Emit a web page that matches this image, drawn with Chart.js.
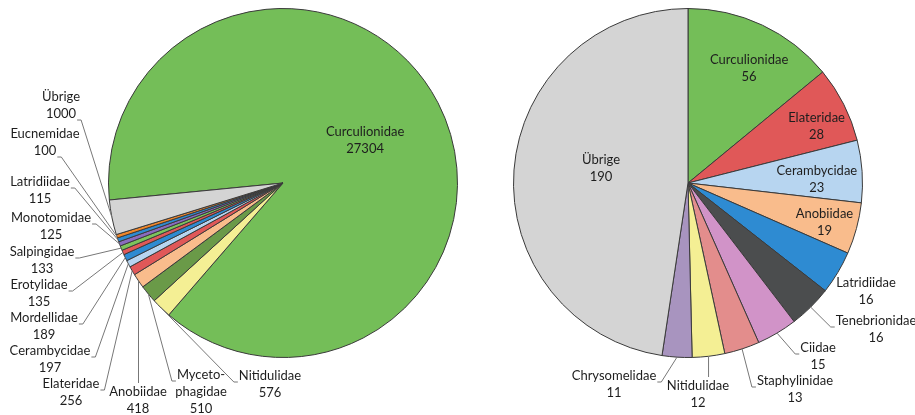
<!DOCTYPE html>
<html>
<head>
<meta charset="utf-8">
<script src="https://cdn.jsdelivr.net/npm/chart.js@4"></script>
<style>
body{margin:0;background:#fff;width:915px;height:415px;overflow:hidden;position:relative}
.box{position:absolute;top:0;height:415px}
#left{left:0;width:460px}
#right{left:460px;width:455px}
</style>
</head>
<body>
<div class="box" id="left"><canvas id="leftChart" width="460" height="415"></canvas></div>
<div class="box" id="right"><canvas id="rightChart" width="455" height="415"></canvas></div>
<script>
// left pie: all individuals
const leftFamilies = ['Curculionidae', 'Nitidulidae', 'Mycetophagidae', 'Anobiidae', 'Elateridae', 'Cerambycidae',
  'Mordellidae', 'Erotylidae', 'Salpingidae', 'Monotomidae', 'Latridiidae', 'Eucnemidae', 'Übrige'];
const leftCounts = [27304, 576, 510, 418, 256, 197, 189, 135, 133, 125, 115, 100, 1000];

// right pie
const rightFamilies = ['Curculionidae', 'Elateridae', 'Cerambycidae', 'Anobiidae', 'Latridiidae', 'Tenebrionidae',
  'Ciidae', 'Staphylinidae', 'Nitidulidae', 'Chrysomelidae', 'Übrige'];
const rightCounts = [56, 28, 23, 19, 16, 16, 15, 13, 12, 11, 190];

const GREEN = '#74be58', GRAY = '#d4d4d4', RED = '#e05858', LBLUE = '#b7d5f0', PEACH = '#f9bc8c',
  BLUE = '#2e8bd2', YELLOW = '#f4ef94';

const leftColors = [GREEN, YELLOW, '#6a9a48', PEACH, RED, LBLUE, BLUE, RED, '#7cc35c', '#8a6bbe', BLUE, '#f0862a', GRAY];
const rightColors = [GREEN, RED, LBLUE, PEACH, BLUE, '#4b4d4e', '#d193c8', '#e38d8c', YELLOW, '#a894bf', GRAY];

const FONT = '13px Lato';
const LINE = 17;

// label placement, canvas coords (r = inside label at fraction of radius)
const leftLayout = [
  {r: 0.53, dx: 0, dy: 0},
  {x: 270, y: 376, lead: 'left'},
  {x: 201, y: 375, lead: 'left', text: ['Myceto-', 'phagidae']},
  {x: 138, y: 392, lead: 'top'},
  {x: 71, y: 384, lead: 'right'},
  {x: 50, y: 351, lead: 'right'},
  {x: 44, y: 318, lead: 'right'},
  {x: 39, y: 285, lead: 'right'},
  {x: 42, y: 252, lead: 'right'},
  {x: 51, y: 218, lead: 'right'},
  {x: 40, y: 182, lead: 'right'},
  {x: 45, y: 134, lead: 'right', line: 1},
  {x: 61, y: 97, lead: 'right', line: 1}
];
const rightLayout = [
  {r: 0.74, dx: 6, dy: 2},
  {r: 0.8, dx: 4, dy: 6},
  {r: 0.74, dx: 0, dy: 5},
  {r: 0.81, dx: 0, dy: 2},
  {x: 406, y: 283},
  {x: 416, y: 321, lead: 'left'},
  {x: 358, y: 348, lead: 'left'},
  {x: 335, y: 381, lead: 'left'},
  {x: 238, y: 386, lead: 'top'},
  {x: 154, y: 376, lead: 'right'},
  {r: 0.5, dx: 0, dy: -8}
];

const sliceLabels = {
  id: 'sliceLabels',
  afterDatasetsDraw(chart, args, opts) {
    const ctx = chart.ctx;
    const arcs = chart.getDatasetMeta(0).data;
    const values = chart.data.datasets[0].data;
    const names = chart.data.labels;
    ctx.save();
    ctx.font = FONT;
    ctx.fillStyle = '#1e1e1e';
    ctx.strokeStyle = '#777';
    ctx.lineWidth = 1;
    ctx.textAlign = 'center';
    ctx.textBaseline = 'middle';
    opts.layout.forEach((lay, i) => {
      const a = arcs[i];
      const mid = (a.startAngle + a.endAngle) / 2;
      const lines = (lay.text || [names[i]]).concat([String(values[i])]);
      let x, y;
      if (lay.r != null) {
        x = a.x + Math.cos(mid) * a.outerRadius * lay.r + lay.dx;
        y = a.y + Math.sin(mid) * a.outerRadius * lay.r + lay.dy - (lines.length - 1) * LINE / 2;
      } else {
        x = lay.x;
        y = lay.y;
      }
      lines.forEach((t, k) => ctx.fillText(t, x, y + k * LINE));
      if (!lay.lead) return;
      const ex = a.x + Math.cos(mid) * a.outerRadius;
      const ey = a.y + Math.sin(mid) * a.outerRadius;
      ctx.beginPath();
      ctx.moveTo(ex, ey);
      if (lay.lead === 'top') {
        const w = ctx.measureText(lines[0]).width;
        const px = Math.min(Math.max(ex, x - w / 2), x + w / 2);
        ctx.lineTo(px, y - 9);
      } else {
        const ln = lay.line || 0;
        const w = ctx.measureText(lines[ln]).width;
        const py = y + ln * LINE + 6;
        const px = lay.lead === 'right' ? x + w / 2 + 1 : x - w / 2 - 1;
        const qx = lay.lead === 'right' ? px + 4 : px - 4;
        ctx.lineTo(qx, py);
        ctx.lineTo(px, py);
      }
      ctx.stroke();
    });
    ctx.restore();
  }
};

function makePie(id, labels, data, colors, layout, rotation, pad) {
  return new Chart(document.getElementById(id), {
    type: 'pie',
    data: {
      labels: labels,
      datasets: [{
        data: data,
        backgroundColor: colors,
        borderColor: '#3a3a3a',
        borderWidth: 1
      }]
    },
    options: {
      responsive: false,
      animation: false,
      events: [],
      rotation: rotation,
      layout: {padding: pad},
      plugins: {
        legend: {display: false},
        tooltip: {enabled: false},
        sliceLabels: {layout: layout}
      }
    },
    plugins: [sliceLabels]
  });
}

makePie('leftChart', leftFamilies, leftCounts, leftColors, leftLayout, 264.4,
  {top: 8, bottom: 57, left: 108, right: 2});
makePie('rightChart', rightFamilies, rightCounts, rightColors, rightLayout, 0,
  {top: 8, bottom: 57, left: 53, right: 52});
</script>
</body>
</html>
